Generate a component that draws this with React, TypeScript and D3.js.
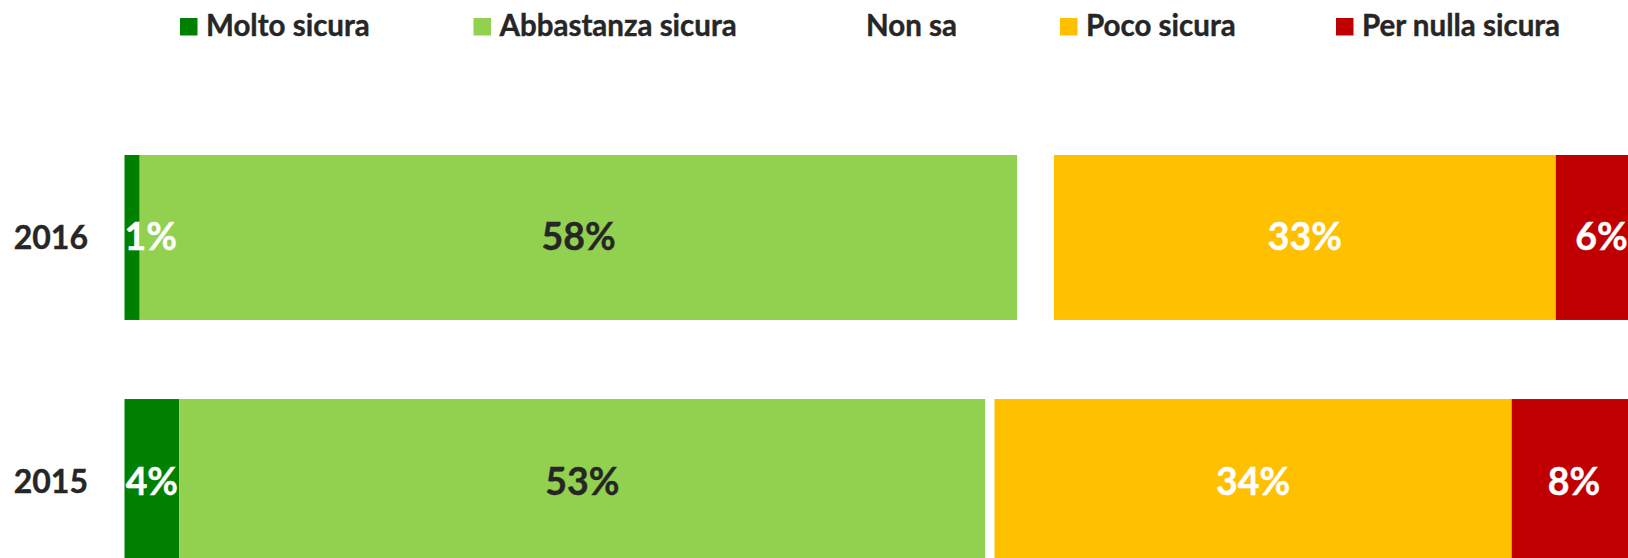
import React from "react";
import * as d3 from "d3";

// ---- data ----
const years = ["2016", "2015"];
const categories = ["Molto sicura", "Abbastanza sicura", "Non sa", "Poco sicura", "Per nulla sicura"];
const molto = [1.0, 3.6];
const abbastanza = [57.7, 53.0];
const nonSa = [2.4, 0.6];
const poco = [33.0, 34.0];
const perNulla = [6.0, 8.2];
const colors = ["#008000", "#92D050", "#FFFFFF", "#FFC000", "#C00000"];
const labelColors = ["#FFFFFF", "#262626", "none", "#FFFFFF", "#FFFFFF"];
const showLabel = [true, true, false, true, true];

// ---- layout ----
const W = 1628;
const H = 558;
const FONT = "Lato, Carlito, Calibri, 'Noto Sans', sans-serif";
const TEXT = "#262626";
const legendX = [180, 473.5, 840, 1060, 1336];

export default function App() {
  const series = [molto, abbastanza, nonSa, poco, perNulla];
  const rows = years.map((y, i) => {
    const r: any = { year: y };
    categories.forEach((c, k) => (r[c] = series[k][i]));
    return r;
  });
  const stacked = d3.stack<any>().keys(categories)(rows);

  const x = d3.scaleLinear().domain([0, 100]).range([124.5, 124.5 + 1521]);
  const y = d3
    .scaleBand<string>()
    .domain(years)
    .range([155, 564])
    .paddingInner(0.324)
    .paddingOuter(0);
  const bw = y.bandwidth();

  return (
    <svg
      width={W}
      height={H}
      style={{ position: "fixed", left: 0, top: 0, display: "block", background: "#fff" }}
      fontFamily={FONT}
      fontWeight={700}
    >
      <rect x={0} y={0} width={W} height={H} fill="#fff" />
      {/* legend */}
      {categories.map((c, k) => (
        <g key={c} transform={`translate(${legendX[k]},0)`}>
          <rect x={0} y={18} width={17.5} height={17.5} fill={colors[k]} />
          <text x={26} y={35.7} fontSize={29.5} fill={TEXT} stroke={TEXT} strokeWidth={0.4}>
            {c}
          </text>
        </g>
      ))}
      {/* bars */}
      {stacked.map((s, k) => (
        <g key={categories[k]}>
          {s.map((d, i) => {
            const x0 = x(d[0]);
            const x1 = x(d[1]);
            const yy = y(years[i]) as number;
            return (
              <rect key={years[i]} x={x0} y={yy} width={x1 - x0} height={bw} fill={colors[k]} />
            );
          })}
        </g>
      ))}
      {/* data labels */}
      {stacked.map((s, k) =>
        showLabel[k]
          ? s.map((d, i) => {
              const x0 = x(d[0]);
              const x1 = x(d[1]);
              const yy = (y(years[i]) as number) + bw / 2;
              const narrow = x1 - x0 < 30;
              const v = Math.round(d[1] - d[0]);
              return (
                <text
                  key={`${k}-${i}`}
                  x={narrow ? x0 : (x0 + x1) / 2}
                  y={yy + 13}
                  textAnchor={narrow ? "start" : "middle"}
                  fontSize={37.5}
                  fill={labelColors[k]}
                  stroke={labelColors[k]}
                  strokeWidth={0.4}
                >
                  {`${v}%`}
                </text>
              );
            })
          : null
      )}
      {/* year labels */}
      {years.map((yr) => (
        <text
          key={yr}
          x={88}
          y={(y(yr) as number) + bw / 2 + 11.5}
          textAnchor="end"
          fontSize={32}
          fill={TEXT}
          stroke={TEXT}
          strokeWidth={0.4}
        >
          {yr}
        </text>
      ))}
    </svg>
  );
}
